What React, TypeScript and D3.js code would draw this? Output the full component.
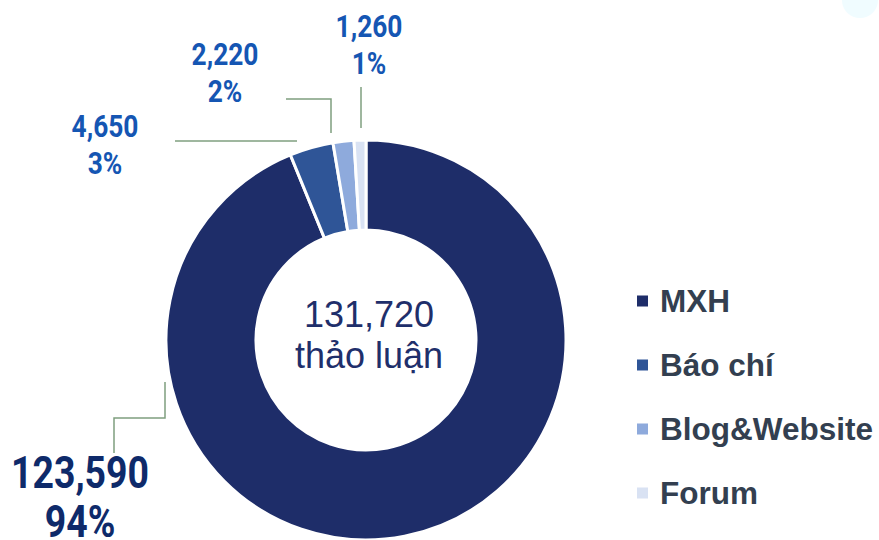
import React from 'react';
import * as d3 from 'd3';

const categories = ['MXH', 'Báo chí', 'Blog&Website', 'Forum'];
const values = [123590, 4650, 2220, 1260];
const percents = ['94%', '3%', '2%', '1%'];
const colors = ['#1e2d69', '#2f5597', '#8eaadc', '#d9e2f3'];
const centerLines = ['131,720', 'thảo luận'];

// label placement (layout, not data)
const labelPos = [
  { x: 80, y: 488, size: 44, gap: 49, color: '#0e2a6a', leader: [[165, 382], [165, 418], [114, 418], [114, 453]] },
  { x: 105, y: 137, size: 31, gap: 37, color: '#1556b3', leader: [[297, 141], [175, 141]] },
  { x: 225, y: 65, size: 31, gap: 37, color: '#1556b3', leader: [[331, 133], [331, 99], [286, 99]] },
  { x: 369, y: 37, size: 31, gap: 37, color: '#1556b3', leader: [[361, 128], [361, 87]] },
];

const W = 879;
const H = 540;
const cx = 366;
const cy = 340;
const outerR = 200;
const innerR = 110;

const App: React.FC = () => {
  const data = categories.map((c, i) => ({ label: c, value: values[i], pct: percents[i] }));
  const pie = d3.pie<typeof data[number]>().value((d) => d.value).sort(null);
  const arc = d3.arc<d3.PieArcDatum<typeof data[number]>>().innerRadius(innerR).outerRadius(outerR);
  const arcs = pie(data);
  const fmt = d3.format(',');
  const line = d3.line();

  const legendY = d3.scalePoint<string>().domain(categories).range([301, 493]);

  return (
    <svg width={W} height={H} style={{ position: 'absolute', left: 0, top: 0, background: '#fff' }}>
      <circle cx={860} cy={0} r={18} fill="#f0fcff" />
      <g transform={`translate(${cx},${cy})`}>
        {arcs.map((a, i) => (
          <path key={i} d={arc(a) || ''} fill={colors[i]} stroke="#fff" strokeWidth={3} />
        ))}
        <text textAnchor="middle" fontFamily="Liberation Sans, Arial, sans-serif" fontSize={36} fill="#1f2f6b">
          <tspan x={3} y={-13}>{centerLines[0]}</tspan>
          <tspan x={3} y={28}>{centerLines[1]}</tspan>
        </text>
      </g>
      {labelPos.map((p, i) => (
        <g key={i}>
          <path d={line(p.leader as [number, number][]) || ''} fill="none" stroke="#7f9f7f" strokeWidth={1.5} />
          <g transform={`translate(${p.x},${p.y}) scale(0.85,1)`}>
            <text textAnchor="middle" fontFamily="Roboto, sans-serif" fontWeight={700} fontSize={p.size} fill={p.color}>
              <tspan x={0} y={0}>{fmt(values[i])}</tspan>
              <tspan x={0} y={p.gap}>{percents[i]}</tspan>
            </text>
          </g>
        </g>
      ))}
      <g fontFamily="Liberation Sans, Arial, sans-serif" fontWeight={700} fontSize={31.5} fill="#333f50">
        {categories.map((c, i) => (
          <g key={c}>
            <rect x={637} y={legendY(c)! - 5.5} width={11} height={11} fill={colors[i]} />
            <text x={660} y={legendY(c)! + 11}>{c}</text>
          </g>
        ))}
      </g>
    </svg>
  );
};

export default App;
